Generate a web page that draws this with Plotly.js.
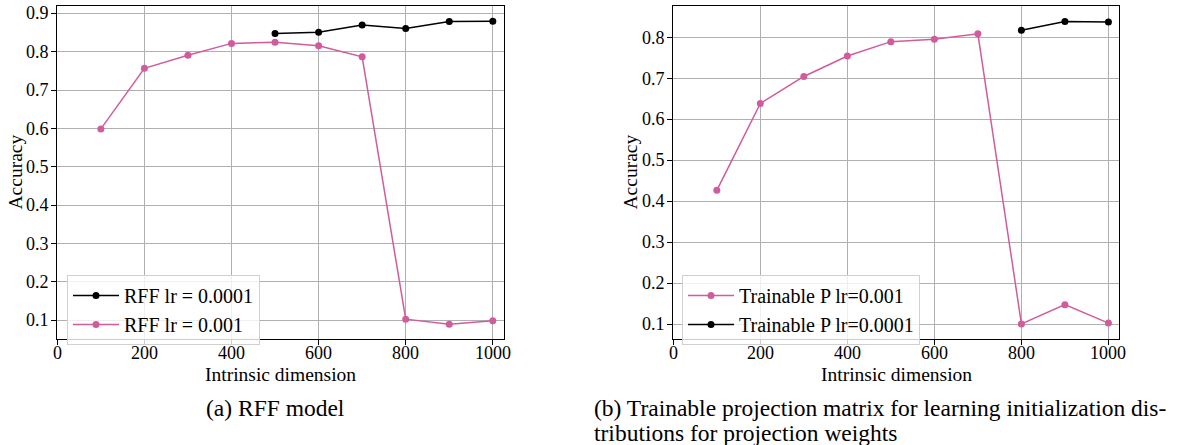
<!DOCTYPE html>
<html>
<head>
<meta charset="utf-8">
<script src="https://cdn.plot.ly/plotly-3.0.1.min.js"></script>
<style>html,body{margin:0;padding:0;background:#fff;}#chart{width:1183px;height:445px;}</style>
</head>
<body>
<div id="chart"></div>
<script>
// Data
const dimsA = [100, 200, 300, 400, 500, 600, 700, 800, 900, 1000];
const rffLr0001Dims = [500, 600, 700, 800, 900, 1000];
const rffLr0001 = [0.848, 0.851, 0.870, 0.861, 0.879, 0.880];
const rffLr001 = [0.599, 0.757, 0.791, 0.822, 0.825, 0.816, 0.787, 0.103, 0.090, 0.099];

const dimsB = [100, 200, 300, 400, 500, 600, 700, 800, 900, 1000];
const trainLr001 = [0.427, 0.639, 0.705, 0.755, 0.790, 0.796, 0.809, 0.101, 0.148, 0.103];
const trainLr0001Dims = [800, 900, 1000];
const trainLr0001 = [0.818, 0.839, 0.838];

const xTicks = [0, 200, 400, 600, 800, 1000];
const yTicksA = [0.1, 0.2, 0.3, 0.4, 0.5, 0.6, 0.7, 0.8, 0.9];
const yTicksB = [0.1, 0.2, 0.3, 0.4, 0.5, 0.6, 0.7, 0.8];

const PINK = '#D15C9C';
const BLACK = '#000000';
const FONT = 'Liberation Serif';

function tr(x, y, name, color, xa, ya, legend) {
  return {x: x, y: y, name: name, type: 'scatter', mode: 'lines+markers',
    line: {color: color, width: 1.5}, marker: {color: color, size: 7},
    xaxis: xa, yaxis: ya, legend: legend};
}

const data = [
  tr(rffLr0001Dims, rffLr0001, 'RFF lr = 0.0001', BLACK, 'x', 'y', 'legend'),
  tr(dimsA, rffLr001, 'RFF lr = 0.001', PINK, 'x', 'y', 'legend'),
  tr(dimsB, trainLr001, 'Trainable P lr=0.001', PINK, 'x2', 'y2', 'legend2'),
  tr(trainLr0001Dims, trainLr0001, 'Trainable P lr=0.0001', BLACK, 'x2', 'y2', 'legend2')
];

function makeX(domain, anchor) {
  return {domain: domain, anchor: anchor, range: [0, 1025], tickmode: 'array', tickvals: xTicks,
    showticklabels: false, showgrid: true, gridcolor: '#b0b0b0', gridwidth: 0.8,
    zeroline: false, showline: true, linecolor: '#000', linewidth: 1, mirror: true,
    ticks: 'outside', ticklen: 5, tickcolor: '#000', automargin: false};
}
function makeY(domain, anchor, range, ticks) {
  return {domain: domain, anchor: anchor, range: range, tickmode: 'array', tickvals: ticks,
    showticklabels: false, showgrid: true, gridcolor: '#b0b0b0', gridwidth: 0.8,
    zeroline: false, showline: true, linecolor: '#000', linewidth: 1, mirror: true,
    ticks: 'outside', ticklen: 5, tickcolor: '#000', automargin: false};
}

const W = 1183, H = 445;
const domA = [57.3 / W, 503.7 / W];
const domB = [673.3 / W, 1119.3 / W];
const yDom = [1 - 339.3 / H, 1 - 6 / H];
const TF = {family: FONT, size: 18, color: '#000'};
const TITLEF = {family: FONT, size: 19.5, color: '#000'};
const CAPF = {family: FONT, size: 23.5, color: '#000'};

const ann = [];
function tickLabels(xref, yref, yTicks, leftPx) {
  xTicks.forEach(v => ann.push({text: String(v), xref: xref, yref: 'paper', x: v, y: 1 - 353 / H,
    xanchor: 'center', yanchor: 'middle', showarrow: false, borderpad: 0, font: TF}));
  yTicks.forEach(v => ann.push({text: v.toFixed(1), xref: 'paper', yref: yref, x: (leftPx - 7) / W, y: v,
    xanchor: 'right', yanchor: 'middle', showarrow: false, borderpad: 0, font: TF}));
}
tickLabels('x', 'y', yTicksA, 57.3);
tickLabels('x2', 'y2', yTicksB, 673.3);
[[domA, 15], [domB, 630]].forEach(([dom, yx]) => {
  ann.push({text: 'Intrinsic dimension', xref: 'paper', yref: 'paper', x: (dom[0] + dom[1]) / 2,
    y: 1 - 374 / H, xanchor: 'center', yanchor: 'middle', showarrow: false, borderpad: 0, font: TITLEF});
  ann.push({text: 'Accuracy', xref: 'paper', yref: 'paper', x: yx / W, y: 1 - 172.5 / H,
    xanchor: 'center', yanchor: 'middle', textangle: -90, showarrow: false, borderpad: 0, font: TITLEF});
});
ann.push({text: '(a) RFF model', xref: 'paper', yref: 'paper', x: 275 / W, y: 1 - 408 / H,
  xanchor: 'center', yanchor: 'middle', showarrow: false, borderpad: 0, font: CAPF});
ann.push({text: '(b) Trainable projection matrix for learning initialization dis-', xref: 'paper', yref: 'paper',
  x: 593 / W, y: 1 - 408 / H, xanchor: 'left', yanchor: 'middle', showarrow: false, borderpad: 0, font: CAPF});
ann.push({text: 'tributions for projection weights', xref: 'paper', yref: 'paper',
  x: 593 / W, y: 1 - 433 / H, xanchor: 'left', yanchor: 'middle', showarrow: false, borderpad: 0, font: CAPF});

const legendStyle = {xanchor: 'left', yanchor: 'top', itemwidth: 46,
  bgcolor: 'rgba(255,255,255,0.8)', bordercolor: '#d0d0d0', borderwidth: 1,
  font: {family: FONT, size: 20, color: '#000'}};
const layout = {
  width: W, height: H, margin: {l: 0, r: 0, t: 0, b: 0},
  paper_bgcolor: '#fff', plot_bgcolor: '#fff', font: {family: FONT, size: 18, color: '#000'},
  xaxis: makeX(domA, 'y'),
  yaxis: makeY(yDom, 'x', [0.0505, 0.9195], yTicksA),
  xaxis2: makeX(domB, 'y2'),
  yaxis2: makeY(yDom, 'x2', [0.0634, 0.877], yTicksB),
  legend: Object.assign({x: 67 / W, y: 1 - 275 / H}, legendStyle),
  legend2: Object.assign({x: 682 / W, y: 1 - 275 / H}, legendStyle),
  annotations: ann,
  showlegend: true
};

Plotly.newPlot('chart', data, layout, {displayModeBar: false});
</script>
</body>
</html>
